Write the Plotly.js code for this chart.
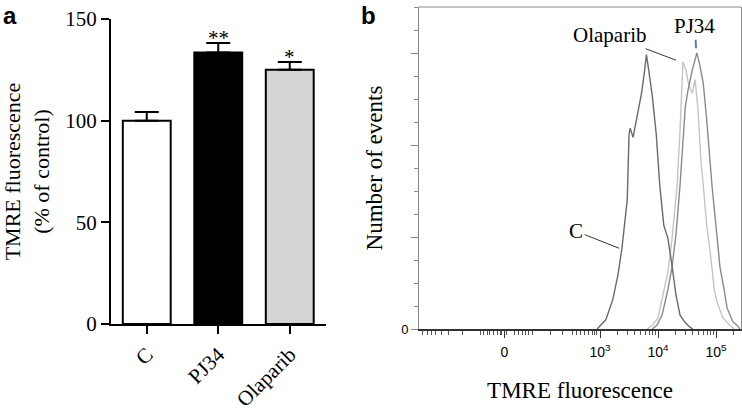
<!DOCTYPE html>
<html>
<head>
<meta charset="utf-8">
<script src="https://cdn.plot.ly/plotly-3.0.1.min.js"></script>
<style>
  html, body { margin: 0; padding: 0; background: #fff; }
  #fig { width: 742px; height: 408px; }
</style>
</head>
<body>
<div id="fig"></div>
<script>
// panel a: TMRE fluorescence, % of control (mean + SEM)
const groups   = ['C', 'PJ34', 'Olaparib'];
const meanPct  = [100, 133.5, 125];
const semPct   = [4.3, 4.7, 3.8];
const stars    = ['', '**', '*'];

// panel b: flow cytometry histograms, x in decades of the display scale
const cLogX   = [2.95, 3.00, 3.10, 3.22, 3.31, 3.38, 3.47, 3.50, 3.52, 3.57, 3.64, 3.71, 3.76, 3.80, 3.84, 3.90, 3.97, 4.03, 4.10, 4.17, 4.24, 4.31, 4.38, 4.47, 4.55, 4.60];
const cCount  = [0, 3, 10, 32, 59, 89, 141, 212, 219, 209, 233, 255, 277, 299, 282, 255, 212, 157, 113, 99, 70, 37, 15, 7, 2, 0];
const olaLogX  = [3.81, 3.90, 4.00, 4.09, 4.17, 4.24, 4.33, 4.38, 4.43, 4.48, 4.53, 4.59, 4.64, 4.69, 4.74, 4.78, 4.84, 4.90, 4.97, 5.02, 5.12, 5.24, 5.31];
const olaCount = [0, 4, 12, 37, 62, 97, 157, 217, 291, 283, 266, 257, 272, 239, 184, 157, 113, 84, 43, 29, 12, 4, 0];
const pjLogX   = [3.90, 3.98, 4.07, 4.17, 4.24, 4.31, 4.38, 4.43, 4.47, 4.52, 4.59, 4.67, 4.72, 4.78, 4.84, 4.93, 5.00, 5.07, 5.14, 5.19, 5.29, 5.38, 5.41];
const pjCount  = [0, 4, 15, 43, 67, 103, 157, 206, 242, 261, 282, 301, 288, 268, 228, 157, 113, 67, 43, 23, 8, 3, 0];

const xTickVals = [1.35, 3, 4, 5];
const xTickText = ['0', '10<sup>3</sup>', '10<sup>4</sup>', '10<sup>5</sup>'];

const SERIF = 'Liberation Serif, Times New Roman, serif';
const SANS  = 'Liberation Sans, Arial, sans-serif';
const barColors = ['#ffffff', '#000000', '#d4d4d4'];

const W = 742, H = 408;
const px = v => v / W;
const py = v => 1 - v / H;

const data = [
    {
        type: 'bar', x: groups, y: meanPct, xaxis: 'x', yaxis: 'y',
        width: 0.67,
        marker: { color: barColors, line: { color: '#000', width: 2 } },
        error_y: { type: 'data', symmetric: false, array: semPct,
                   arrayminus: semPct.map(() => 0), color: '#000', thickness: 2, width: 12 },
        hoverinfo: 'skip',
    },
    { type: 'scatter', mode: 'lines', x: olaLogX, y: olaCount, xaxis: 'x2', yaxis: 'y2',
      line: { color: '#c4c4c4', width: 1.4 }, name: 'Olaparib' },
    { type: 'scatter', mode: 'lines', x: pjLogX, y: pjCount, xaxis: 'x2', yaxis: 'y2',
      line: { color: '#8a8a8a', width: 1.4 }, name: 'PJ34' },
    { type: 'scatter', mode: 'lines', x: cLogX, y: cCount, xaxis: 'x2', yaxis: 'y2',
      line: { color: '#6a6a6a', width: 1.4 }, name: 'C' },
];

const annotations = [
    { xref: 'paper', yref: 'paper', x: px(1), y: py(0), xanchor: 'left', yanchor: 'top',
      text: '<b>a</b>', showarrow: false, font: { family: SANS, size: 24, color: '#000' } },
    { xref: 'paper', yref: 'paper', x: px(359), y: py(0), xanchor: 'left', yanchor: 'top',
      text: '<b>b</b>', showarrow: false, font: { family: SANS, size: 24, color: '#000' } },
    // panel b curve labels
    { xref: 'x2', yref: 'y2', x: 4.31, y: 293, ax: -66, ay: -25, text: 'Olaparib',
      showarrow: true, arrowhead: 0, arrowwidth: 1, arrowcolor: '#333', standoff: 0,
      font: { family: SERIF, size: 21, color: '#000' } },
    { xref: 'x2', yref: 'y2', x: 4.655, y: 306, ax: -1, ay: -22, text: 'PJ34',
      showarrow: true, arrowhead: 0, arrowwidth: 2, arrowcolor: '#4a7fc0', standoff: 0,
      font: { family: SERIF, size: 21, color: '#000' } },
    { xref: 'x2', yref: 'y2', x: 3.33, y: 88, ax: -43, ay: -17, text: 'C',
      showarrow: true, arrowhead: 0, arrowwidth: 1, arrowcolor: '#333', standoff: 0,
      font: { family: SERIF, size: 21, color: '#000' } },
];
groups.forEach((g, i) => {
    if (!stars[i]) return;
    annotations.push({ xref: 'x', yref: 'y', x: g, y: meanPct[i] + semPct[i],
        yanchor: 'bottom', yshift: -9, text: stars[i], showarrow: false,
        font: { family: SERIF, size: 21, color: '#000' } });
});

const layout = {
    width: W, height: H,
    margin: { l: 0, r: 0, t: 0, b: 0 },
    paper_bgcolor: '#fff', plot_bgcolor: '#fff',
    showlegend: false,
    font: { family: SERIF, color: '#000' },
    xaxis: {
        domain: [px(111), px(325.5)], anchor: 'y',
        range: [-0.5, 2.5], type: 'category',
        showline: true, linecolor: '#000', linewidth: 2,
        ticks: 'outside', ticklen: 8, tickwidth: 2, tickcolor: '#000',
        tickangle: -45, tickfont: { family: SERIF, size: 21, color: '#000' },
        showgrid: false, zeroline: false, fixedrange: true,
    },
    yaxis: {
        domain: [py(324), py(19)], anchor: 'x',
        range: [0, 150], tickvals: [0, 50, 100, 150],
        showline: true, linecolor: '#000', linewidth: 2,
        ticks: 'outside', ticklen: 8, tickwidth: 2, tickcolor: '#000',
        tickfont: { family: SERIF, size: 21, color: '#000' },
        showgrid: false, zeroline: false,
        title: { text: 'TMRE fluorescence<br>(% of control)', standoff: 19,
                 font: { family: SERIF, size: 22, color: '#000' } },
    },
    xaxis2: {
        domain: [px(419), px(741)], anchor: 'y2',
        range: [-0.121, 5.431],
        showline: true, linecolor: '#333', linewidth: 1.5,
        tickvals: xTickVals, ticktext: xTickText,
        ticks: 'outside', ticklen: 7, tickwidth: 1, tickcolor: '#333',
        ticklabelstandoff: 3,
        tickfont: { family: SANS, size: 14, color: '#000' },
        minor: {
            tickmode: 'array',
            tickvals: [-0.069, 0.017, 0.086, 0.172, 0.259, 0.379, 0.621, 0.931, 0.983, 1.052, 1.103,
                       1.155, 1.224, 1.276, 1.31, 1.39, 1.534, 1.586, 1.655, 1.707, 1.759, 1.828, 2.138,
                       2.345, 2.517, 2.603, 2.672, 2.741, 2.793, 2.862, 2.897, 2.948,
                       3.301, 3.477, 3.602, 3.699, 3.778, 3.845, 3.903, 3.954,
                       4.301, 4.477, 4.602, 4.699, 4.778, 4.845, 4.903, 4.954, 5.301],
            ticks: 'outside', ticklen: 4, tickwidth: 1, tickcolor: '#555',
        },
        showgrid: false, zeroline: false,
        title: { text: 'TMRE fluorescence', standoff: 22,
                 font: { family: SERIF, size: 23, color: '#000' } },
    },
    yaxis2: {
        domain: [py(329), py(7)], anchor: 'x2',
        range: [0, 351],
        showline: true, linecolor: '#888', linewidth: 1, mirror: true,
        tickvals: [0, 100, 200, 300], ticktext: ['0', '', '', ''],
        ticks: 'outside', ticklen: 7, tickwidth: 1, tickcolor: '#888',
        tickfont: { family: SANS, size: 13, color: '#000' },
        minor: {
            tickmode: 'array',
            tickvals: [25, 50, 75, 125, 150, 175, 225, 250, 275, 325, 350],
            ticks: 'outside', ticklen: 4, tickwidth: 1, tickcolor: '#888',
        },
        showgrid: false, zeroline: false,
        title: { text: 'Number of events', standoff: 12,
                 font: { family: SERIF, size: 23, color: '#000' } },
    },
    shapes: [
        { type: 'line', xref: 'x2 domain', yref: 'y2 domain', x0: 0, x1: 1, y0: 1, y1: 1,
          line: { color: '#888', width: 1 } },
    ],
    annotations,
};

Plotly.newPlot('fig', data, layout, { displayModeBar: false, staticPlot: true });
</script>
</body>
</html>
